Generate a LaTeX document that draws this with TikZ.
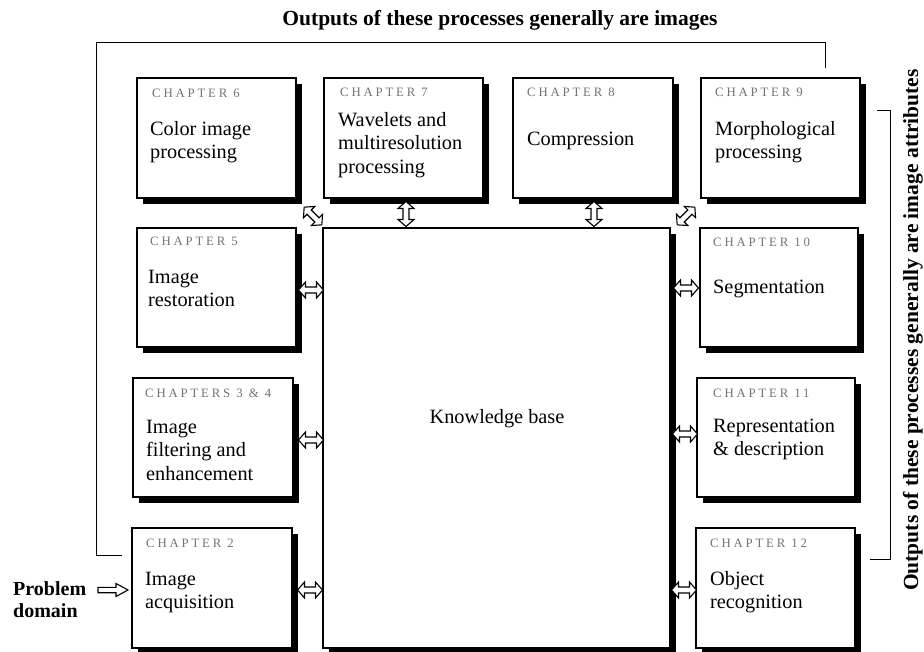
\documentclass[tikz,border=0pt]{standalone}
\usepackage{fontspec}
\setmainfont{Liberation Serif}
\newfontfamily\lblfont[LetterSpace=22]{Liberation Serif}
\usetikzlibrary{shadows,calc}
\newcommand{\lines}[1]{\begin{tabular}[t]{@{}l@{}}#1\end{tabular}}
\tikzset{
  box/.style={draw, line width=1.2pt, fill=white, rectangle, inner sep=0pt, outer sep=0pt, anchor=north west,
    drop shadow={shadow xshift=6pt, shadow yshift=-6pt, fill=black, opacity=1}},
  lbl/.style={anchor=base west, inner sep=0pt, font={\lblfont\fontsize{12.8}{14}\selectfont}, text=black!55},
  ttl/.style={anchor=base west, inner sep=0pt, font={\fontsize{20.3}{23.5}\selectfont}},
  bigb/.style={inner sep=0pt, font={\bfseries\fontsize{21.5}{23}\selectfont}},
  bracket/.style={line width=1pt},
  arrowshape/.style={draw, fill=white, line width=1.1pt, line join=miter},
  dbl/.pic={\path[arrowshape] (-12.5,0) -- (-5.5,8) -- (-5.5,3) -- (5.5,3) -- (5.5,8) -- (12.5,0) -- (5.5,-8) -- (5.5,-3) -- (-5.5,-3) -- (-5.5,-8) -- cycle;},
  sgl/.pic={\path[arrowshape] (-15,-2.7) -- (3,-2.7) -- (3,-6.5) -- (15,0) -- (3,6.5) -- (3,2.7) -- (-15,2.7) -- cycle;},
}
\begin{document}
\begin{tikzpicture}[x=1pt,y=-1pt]
\fill[white] (0,0) rectangle (924,651);
\useasboundingbox (0,0) rectangle (924,651);

% title and brackets
\node[bigb, anchor=base] (outimg) at (500,25) {Outputs of these processes generally are images};
\coordinate (tl1) at (122,555);
\coordinate (tl2) at (96,555);
\coordinate (tl3) at (96,42);
\coordinate (tl4) at (825,42);
\coordinate (tl5) at (825,68);
\draw[bracket] (tl1) -- (tl2) -- (tl3) -- (tl4) -- (tl5);

\node[bigb, rotate=90] (outattr) at (913,330) {Outputs of these processes generally are image attributes};
\coordinate (rb1) at (877,110);
\coordinate (rb2) at (890,110);
\coordinate (rb3) at (890,559);
\coordinate (rb4) at (870,559);
\draw[bracket] (rb1) -- (rb2) -- (rb3) -- (rb4);

% knowledge base
\node[box, minimum width=347pt, minimum height=420pt] (kb) at (323,228) {};
\node[anchor=base, inner sep=0pt, font={\fontsize{20.3}{23.5}\selectfont}] (kbt) at (497,423) {Knowledge base};

% top row
\node[box, minimum width=159pt, minimum height=120pt] (ch6) at (137,78) {};
\node[lbl] (ch6l) at (152,97) {CHAPTER 6};
\node[ttl] (ch6t) at (150,135) {\lines{Color image\\processing}};

\node[box, minimum width=159pt, minimum height=120pt] (ch7) at (324,78) {};
\node[lbl] (ch7l) at (340,96) {CHAPTER 7};
\node[ttl] (ch7t) at (338,126) {\lines{Wavelets and\\multiresolution\\processing}};

\node[box, minimum width=160pt, minimum height=120pt] (ch8) at (513,78) {};
\node[lbl] (ch8l) at (527,96) {CHAPTER 8};
\node[ttl] (ch8t) at (527,145) {Compression};

\node[box, minimum width=159pt, minimum height=120pt] (ch9) at (701,78) {};
\node[lbl] (ch9l) at (715,96) {CHAPTER 9};
\node[ttl] (ch9t) at (715,135) {\lines{Morphological\\processing}};

% left column
\node[box, minimum width=159pt, minimum height=119pt] (ch5) at (137,228) {};
\node[lbl] (ch5l) at (150,245) {CHAPTER 5};
\node[ttl] (ch5t) at (148,283) {\lines{Image\\restoration}};

\node[box, minimum width=160pt, minimum height=119pt] (ch34) at (133,378) {};
\node[lbl] (ch34l) at (145,397) {CHAPTERS 3 \& 4};
\node[ttl] (ch34t) at (146,433) {\lines{Image\\filtering and\\enhancement}};

\node[box, minimum width=160pt, minimum height=120pt] (ch2) at (132,528) {};
\node[lbl] (ch2l) at (146,547) {CHAPTER 2};
\node[ttl] (ch2t) at (145,585) {\lines{Image\\acquisition}};

% right column
\node[box, minimum width=158pt, minimum height=119pt] (ch10) at (700,228) {};
\node[lbl] (ch10l) at (713,246) {CHAPTER 10};
\node[ttl] (ch10t) at (713,293) {Segmentation};

\node[box, minimum width=158pt, minimum height=119pt] (ch11) at (697,378) {};
\node[lbl] (ch11l) at (713,397) {CHAPTER 11};
\node[ttl] (ch11t) at (713,432) {\lines{Representation\\\& description}};

\node[box, minimum width=159pt, minimum height=120pt] (ch12) at (696,528) {};
\node[lbl] (ch12l) at (710,547) {CHAPTER 12};
\node[ttl] (ch12t) at (710,585) {\lines{Object\\recognition}};

% problem domain
\node[anchor=base west, inner sep=0pt, font={\bfseries\fontsize{20}{22}\selectfont}] (pd) at (13,595) {\lines{Problem\\domain}};
\pic at (113,590) {sgl};

% double arrows
\pic at (311,290) {dbl};
\pic at (311,440) {dbl};
\pic at (310,590) {dbl};
\pic at (686,288) {dbl};
\pic at (685,434) {dbl};
\pic at (684,590) {dbl};
\pic[rotate=90] at (406,214) {dbl};
\pic[rotate=90] at (594,214) {dbl};
\pic[rotate=-45] at (313,216) {dbl};
\pic[rotate=45] at (686,216) {dbl};
\end{tikzpicture}
\end{document}
